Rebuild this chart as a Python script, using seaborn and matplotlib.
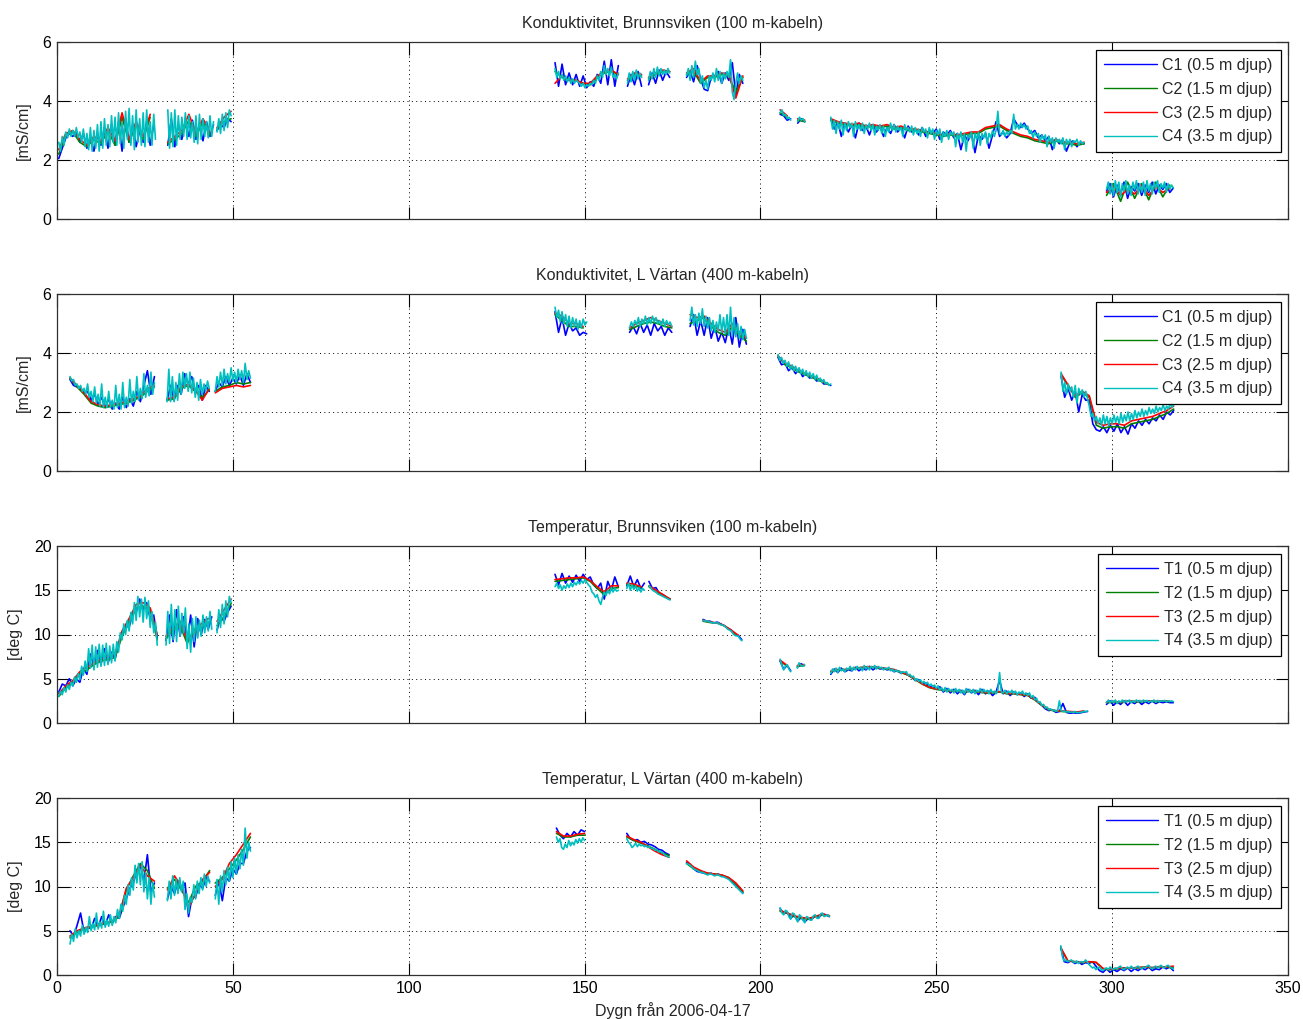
import matplotlib
matplotlib.use("Agg")
import matplotlib.pyplot as plt
from matplotlib.lines import Line2D
import pandas as pd
import seaborn as sns

# ---------------------------------------------------------------------------
# Each series is stored as segments; a segment starts at the given day and is
# sampled every STEP[sensor] days.
# ---------------------------------------------------------------------------
STEP = {"1": 1.0, "2": 2.0, "3": 2.0, "4": 0.5}

# ---- Konduktivitet, Brunnsviken (100 m-kabeln) -----------------------------
bv_cond_start = [0.5, 31.5, 45.5, 141.6, 162.2, 168.2, 179.0, 205.6, 210.6, 220.0, 298.4]
bv_cond_c1 = [
    [2.05, 2.4, 2.75, 2.9, 2.8, 2.95, 2.6, 2.9, 2.4, 2.8, 2.3, 2.9, 2.5, 3.1, 2.4, 3.2, 2.5, 3.3, 2.3, 3.4, 2.6, 3.2, 2.45, 3.0, 2.6, 3.3, 2.5, 3.2],
    [2.5, 3.4, 2.45, 3.2, 2.7, 3.3, 2.8, 3.35, 2.7, 3.2, 2.65, 3.3, 2.8, 3.2],
    [3.0, 3.2, 3.1, 3.4, 3.3],
    [5.3, 4.5, 5.25, 4.55, 4.95, 4.55, 4.9, 4.5, 4.85, 4.45, 4.65, 4.5, 4.9, 4.6, 5.35, 4.55, 5.4, 4.5, 5.2],
    [4.5, 4.9, 4.55, 5.0, 4.5],
    [4.55, 4.95, 4.6, 5.05, 4.7, 5.0, 4.8],
    [4.8, 5.0, 4.65, 5.2, 4.75, 4.4, 4.35, 4.8, 4.85, 5.0, 4.6, 4.95, 4.7, 5.3, 4.2, 4.9, 4.6],
    [3.55, 3.5, 3.35, 3.4],
    [3.25, 3.4, 3.3],
    [3.4, 3.05, 3.3, 2.8, 3.25, 2.95, 3.2, 2.75, 3.25, 3.0, 3.15, 2.85, 3.2, 2.95,
     3.15, 2.8, 3.1, 2.9, 3.2, 2.95, 3.1, 2.75, 3.15, 2.95,
     3.05, 2.85, 3.1, 2.8, 3.0, 2.9, 3.05, 2.7, 2.95, 2.85, 3.0, 2.75,
     2.9, 2.35, 2.85, 2.65, 2.9, 2.25, 2.85, 2.7, 2.9, 2.4, 2.85,
     3.3, 2.8, 2.95, 2.75, 2.9, 3.4, 3.2, 3.1, 3.25, 3.05,
     2.9, 3.0, 2.75, 2.85, 2.65, 2.8, 2.35, 2.7, 2.55, 2.7, 2.3, 2.6, 2.65, 2.45, 2.6, 2.55],
    [0.95, 1.2, 0.75, 1.15, 0.85, 1.25, 0.7, 1.1, 0.95, 1.2, 0.8, 1.15, 0.9, 1.25, 0.85, 1.15, 1.0, 1.2, 0.9, 1.05],
]
bv_cond_c2 = [
    [2.2, 2.85, 2.95, 2.6, 2.45, 2.7, 2.55, 3.0, 2.5, 3.45, 2.6, 3.2, 2.7, 3.45],
    [2.55, 2.7, 2.9, 3.35, 2.8, 3.3, 2.85],
    [3.05, 3.3, 3.4],
    [5.0, 4.8, 4.7, 4.7, 4.6, 4.55, 4.8, 4.95, 5.0, 4.9],
    [4.7, 4.9, 4.85],
    [4.75, 4.9, 5.0, 5.0],
    [4.9, 5.0, 4.6, 4.8, 4.8, 4.9, 4.85, 4.3, 4.8],
    [3.6, 3.45],
    [3.35, 3.3],
    [3.35, 3.25, 3.2, 3.15, 3.2, 3.1, 3.15, 3.1, 3.15, 3.05, 3.1, 3.0, 3.0, 2.95, 2.9, 2.85, 2.8, 2.85, 2.8,
     2.85, 2.9, 2.9, 3.05, 3.1, 3.15, 3.0, 2.9, 2.8, 2.75, 2.65, 2.6, 2.55, 2.65, 2.55, 2.55, 2.5, 2.55],
    [0.8, 1.2, 0.6, 1.25, 0.7, 1.2, 0.65, 1.25, 0.75, 1.15],
]
bv_cond_c3 = [
    [2.35, 2.9, 3.0, 2.7, 2.5, 2.8, 2.65, 3.1, 2.65, 3.6, 2.7, 3.3, 2.8, 3.55],
    [2.6, 2.8, 3.0, 3.55, 2.9, 3.4, 2.95],
    [3.1, 3.45, 3.65],
    [4.6, 4.85, 4.7, 4.7, 4.6, 4.6, 4.85, 5.0, 5.05, 4.9],
    [4.75, 4.95, 4.9],
    [4.8, 4.95, 5.05, 5.0],
    [4.95, 5.1, 4.65, 4.85, 4.85, 4.95, 4.9, 4.1, 4.85],
    [3.7, 3.5],
    [3.4, 3.35],
    [3.4, 3.3, 3.25, 3.2, 3.25, 3.15, 3.2, 3.15, 3.2, 3.1, 3.15, 3.05, 3.05, 3.0, 2.95, 2.9, 2.85, 2.9, 2.85,
     2.9, 2.95, 2.95, 3.1, 3.15, 3.2, 3.05, 2.95, 2.85, 2.8, 2.7, 2.65, 2.6, 2.7, 2.6, 2.6, 2.55, 2.6],
    [0.9, 1.1, 0.8, 1.0, 0.85, 1.15, 0.8, 1.1, 0.9, 1.05],
]
bv_cond_c4 = [
    [2.6, 2.3, 2.8, 2.5, 2.95, 2.75, 3.05, 2.8,
     3.0, 2.8, 3.1, 2.75, 2.95, 2.6, 3.05, 2.45,
     2.9, 2.35, 3.1, 2.3, 3.0, 2.4, 3.2, 2.3,
     3.3, 2.4, 3.4, 2.5, 3.2, 2.45, 3.5, 2.6,
     3.45, 2.5, 3.6, 2.55, 3.3, 2.4, 3.65, 2.7,
     3.75, 2.5, 3.5, 2.35, 3.7, 2.6, 3.4, 2.5,
     3.6, 2.45, 3.7, 2.6, 3.3, 2.5, 3.55, 2.7],
    [3.7, 2.4, 3.6, 2.45, 3.7, 2.5, 3.5, 2.7, 3.45, 2.8, 3.6, 2.7, 3.5, 2.75, 3.3, 2.6, 3.5, 2.55,
     3.55, 2.7, 3.4, 2.8, 3.3, 2.75, 3.5, 2.8, 3.3],
    [2.95, 3.4, 2.9, 3.55, 3.0, 3.6, 3.1, 3.7, 3.5],
    [5.1, 4.8, 5.0, 4.75, 4.9, 4.7, 4.85, 4.65, 4.8, 4.6, 4.75, 4.6, 4.7, 4.65, 4.6, 4.5, 4.6, 4.45,
     4.55, 4.5, 4.6, 4.55, 4.7, 4.6, 4.85, 4.7, 5.0, 4.8, 5.2, 4.9, 5.1, 4.85, 5.15, 4.8, 4.9, 4.75, 4.95],
    [4.6, 4.95, 4.65, 5.0, 4.7, 5.05, 4.75, 4.95, 4.8],
    [4.7, 5.0, 4.75, 5.1, 4.8, 5.15, 4.85, 5.1, 4.9, 5.05, 4.9, 5.1, 4.95],
    [4.85, 5.1, 4.7, 5.2, 4.8, 5.35, 4.9, 5.1, 4.6, 4.85, 4.45, 4.7, 4.4, 4.85, 4.7, 4.95, 4.65,
     5.1, 4.7, 5.0, 4.6, 4.95, 4.75, 5.0, 4.8, 5.4, 4.3, 4.05, 4.6, 4.95, 4.6, 4.85, 4.7],
    [3.6, 3.7, 3.5, 3.55, 3.4, 3.45, 3.35],
    [3.3, 3.45, 3.35, 3.4, 3.3],
    [3.45, 3.05, 3.35, 2.9, 3.3, 3.05, 3.35, 2.85, 3.25, 3.0, 3.3, 3.1, 3.25, 2.8,
     3.3, 3.05, 3.2, 3.0, 3.25, 2.9, 3.2, 3.05, 3.25, 3.0, 3.2, 2.85, 3.15, 3.0,
     3.2, 2.9, 3.15, 2.8, 3.1, 2.95, 3.25, 3.0, 3.2, 2.95, 3.15, 3.0, 3.1, 2.8,
     3.2, 3.0, 3.1, 2.95, 3.15, 2.85, 3.1, 2.9, 3.05, 2.8, 3.1, 2.95, 3.05, 2.75,
     3.1, 2.9, 3.05, 2.7, 3.0, 2.85, 3.05, 2.6, 2.95, 2.8, 3.0, 2.7, 2.95, 2.85,
     2.95, 2.45, 2.9, 2.7, 2.95, 2.6, 2.9, 2.3, 2.85, 2.75, 2.95, 2.4, 2.9, 2.7,
     2.95, 2.5, 2.9, 2.75, 2.95, 2.55, 2.9, 2.75, 3.0, 2.8, 3.0, 3.65, 2.9, 2.85,
     3.0, 2.8, 2.95, 2.85, 3.0, 2.9, 3.55, 3.05, 3.2, 3.05, 3.25, 3.1, 3.2, 3.05,
     3.15, 2.9, 3.0, 2.75, 2.95, 2.8, 2.9, 2.6, 2.85, 2.7, 2.85, 2.45, 2.8, 2.6,
     2.75, 2.4, 2.75, 2.6, 2.7, 2.55, 2.75, 2.35, 2.7, 2.55, 2.7, 2.45, 2.65, 2.6,
     2.7, 2.5, 2.65, 2.55, 2.6],
    [1.0, 1.25, 0.85, 1.2, 0.8, 1.3, 0.9, 1.25, 0.75, 1.2, 0.95, 1.3, 0.85, 1.15, 0.8, 1.25, 1.0, 1.3, 0.85, 1.2,
     0.9, 1.25, 0.8, 1.3, 0.95, 1.2, 0.85, 1.25, 1.0, 1.3, 0.9, 1.2, 1.05, 1.25, 0.9, 1.2, 1.0, 1.15, 1.05],
]

# ---- Konduktivitet, L Värtan (400 m-kabeln) --------------------------------
lv_cond_start = [3.7, 31.3, 45.0, 141.6, 162.8, 180.0, 205.0, 285.5]
lv_cond_c1 = [
    [3.1, 2.9, 2.85, 2.8, 2.65, 2.7, 2.4, 2.6, 2.25, 2.5, 2.15, 2.45, 2.1, 2.3, 2.1, 2.5, 2.15, 2.45, 2.2, 2.7, 2.35, 2.9, 3.4, 2.6, 3.2],
    [2.4, 2.9, 2.4, 2.9, 2.6, 3.3, 2.95, 3.2, 2.7, 2.9, 2.4, 2.9, 2.7],
    [2.7, 3.0, 2.85, 3.2, 2.9, 3.15, 2.95, 3.25, 2.9, 3.3, 3.0],
    [5.4, 4.7, 5.2, 4.6, 5.0, 4.75, 4.85, 4.6, 4.7, 4.65],
    [4.7, 4.9, 4.65, 5.0, 4.7, 4.95, 4.6, 5.0, 4.75, 4.9, 4.6, 4.85, 4.7],
    [4.9, 5.3, 4.6, 5.1, 4.6, 5.2, 4.5, 4.9, 4.4, 4.7, 4.35, 4.9, 4.3, 5.2, 4.2, 4.8, 4.3],
    [3.85, 3.6, 3.65, 3.4, 3.5, 3.3, 3.45, 3.2, 3.3, 3.15, 3.2, 3.05, 3.1, 2.95, 2.95, 2.9],
    [3.2, 2.5, 2.8, 2.4, 2.7, 2.0, 2.6, 2.4, 2.4, 1.6, 1.4, 1.35, 1.5, 1.3, 1.55, 1.35, 1.6, 1.3, 1.5, 1.25,
     1.6, 1.45, 1.7, 1.55, 1.75, 1.6, 1.8, 1.7, 1.9, 1.75, 2.0, 1.9, 2.05],
]
lv_cond_c2 = [
    [3.15, 2.85, 2.6, 2.3, 2.2, 2.15, 2.2, 2.25, 2.3, 2.4, 2.5, 2.7, 2.85],
    [2.4, 2.45, 2.8, 2.9, 2.7, 2.5, 2.75],
    [2.7, 2.85, 2.9, 3.0, 2.95, 3.0],
    [5.3, 5.1, 4.9, 4.9, 4.85],
    [4.8, 4.9, 5.0, 5.05, 5.0, 4.9, 4.85],
    [5.0, 5.1, 5.2, 4.9, 4.7, 4.6, 4.9, 4.6, 4.4],
    [3.9, 3.6, 3.5, 3.35, 3.25, 3.15, 3.05, 2.95],
    [3.25, 2.9, 2.5, 2.65, 2.5, 1.55, 1.45, 1.5, 1.5, 1.45, 1.6, 1.65, 1.7, 1.75, 1.85, 1.95, 2.1],
]
lv_cond_c3 = [
    [3.15, 2.9, 2.65, 2.35, 2.25, 2.2, 2.25, 2.3, 2.35, 2.45, 2.55, 2.8, 2.9],
    [2.45, 2.5, 2.85, 2.95, 2.75, 2.4, 2.8],
    [2.65, 2.8, 2.85, 2.9, 2.85, 2.9],
    [5.35, 5.25, 5.0, 5.0, 4.9],
    [4.85, 5.0, 5.1, 5.2, 5.1, 5.0, 4.9],
    [5.3, 5.2, 5.25, 5.0, 4.8, 4.7, 5.0, 4.7, 4.5],
    [3.9, 3.65, 3.55, 3.4, 3.3, 3.2, 3.1, 2.95],
    [3.3, 2.9, 2.55, 2.7, 2.55, 1.65, 1.55, 1.6, 1.6, 1.55, 1.7, 1.75, 1.8, 1.85, 1.95, 2.05, 2.2],
]
lv_cond_c4 = [
    [3.2, 3.05, 3.1, 2.9, 2.95, 2.8, 2.9, 2.7, 2.8, 2.6, 2.95, 2.5, 2.7, 2.35, 2.85, 2.3,
     2.6, 2.2, 2.95, 2.15, 2.5, 2.15, 2.7, 2.15, 2.4, 2.1, 2.9, 2.15, 2.6, 2.1, 3.0, 2.15,
     2.5, 2.2, 3.1, 2.3, 2.7, 2.35, 3.2, 2.4, 2.8, 2.45, 3.3, 2.5, 2.9, 2.55, 3.35, 2.6, 3.0],
    [2.35, 3.45, 2.35, 3.2, 2.35, 3.0, 2.4, 3.3, 2.6, 3.35, 2.8, 3.3, 2.7, 3.35, 2.65, 3.15, 2.5, 3.0,
     2.4, 3.1, 2.6, 2.95, 2.7, 3.05, 2.8],
    [2.7, 3.2, 2.85, 3.35, 2.9, 3.45, 2.95, 3.3, 3.0, 3.5, 3.05, 3.35, 3.0, 3.45, 3.1, 3.4, 3.0, 3.65, 3.1, 3.4, 3.15],
    [5.55, 5.2, 5.45, 5.05, 5.4, 5.0, 5.3, 4.9, 5.25, 4.85, 5.2, 4.9, 5.15, 4.8, 5.1, 4.85, 5.15, 4.95, 5.05],
    [4.85, 5.05, 4.9, 5.1, 4.95, 5.2, 4.9, 5.15, 5.0, 5.25, 4.95, 5.2, 5.0, 5.25, 5.05, 5.2, 5.0, 5.1,
     4.95, 5.15, 4.9, 5.1, 4.95, 5.05, 4.9],
    [5.1, 5.55, 4.95, 5.3, 4.9, 5.35, 5.0, 5.5, 4.9, 5.25, 4.85, 5.2, 4.75, 5.1, 4.7, 5.05, 4.75, 5.3,
     4.7, 5.2, 4.65, 5.3, 4.6, 5.55, 4.6, 5.2, 4.55, 5.0, 4.5, 4.9, 4.45, 4.8, 4.5],
    [3.95, 3.75, 3.85, 3.65, 3.75, 3.55, 3.7, 3.45, 3.6, 3.4, 3.55, 3.35, 3.5, 3.3, 3.45, 3.25,
     3.4, 3.2, 3.35, 3.15, 3.3, 3.1, 3.25, 3.05, 3.15, 3.0, 3.1, 2.95, 3.0, 2.9, 2.95],
    [3.35, 2.7, 3.0, 2.6, 2.95, 2.7, 2.85, 2.5, 2.9, 2.3, 2.8, 2.6, 2.75, 2.5, 2.7, 2.45,
     2.2, 1.85, 1.95, 1.7, 1.85, 1.6, 1.8, 1.55, 1.9, 1.6, 1.85, 1.55, 1.8, 1.6, 1.9, 1.65,
     1.85, 1.6, 1.95, 1.65, 1.9, 1.7, 2.0, 1.7, 1.95, 1.75, 2.05, 1.8, 2.0, 1.85, 2.1, 1.85,
     2.05, 1.9, 2.15, 1.95, 2.1, 1.95, 2.2, 2.0, 2.15, 2.05, 2.25, 2.05, 2.2, 2.1, 2.3, 2.15, 2.25],
]

# ---- Temperatur, Brunnsviken (100 m-kabeln) --------------------------------
bv_temp_start = [0.5, 31.0, 45.5, 141.6, 162.0, 168.3, 183.7, 205.6, 210.5, 220.0, 298.4]
bv_temp_t1 = [
    [3.5, 4.4, 4.2, 5.0, 4.2, 5.0, 4.6, 6.2, 5.5, 7.8, 6.4, 8.2, 6.6, 8.4, 6.8, 8.0, 7.2, 9.0, 9.8, 11.0, 10.8, 12.4, 12.5, 14.0, 12.8, 13.6, 11.8, 12.2, 9.6],
    [9.3, 12.2, 9.2, 12.8, 9.8, 12.0, 9.0, 12.2, 8.6, 11.8, 10.0, 11.7, 10.6, 12.0],
    [10.5, 12.0, 11.5, 12.5, 13.2],
    [16.8, 15.6, 16.9, 15.8, 16.6, 15.9, 16.7, 16.0, 16.8, 16.2, 16.5, 15.6, 15.2, 15.8, 14.0, 16.0, 15.0, 16.5, 15.4],
    [15.5, 16.6, 15.4, 16.2, 15.2, 15.8],
    [16.0, 15.2, 15.3, 14.6, 14.5, 14.2, 14.0],
    [11.7, 11.5, 11.5, 11.3, 11.4, 11.2, 11.0, 10.7, 10.5, 10.0, 9.9, 9.4],
    [7.0, 6.1, 6.5, 5.9],
    [6.3, 6.7, 6.5],
    [5.5, 6.1, 5.7, 6.2, 5.8, 6.0, 5.9, 6.3, 5.9, 6.2,
     6.0, 6.4, 6.0, 6.3, 6.1, 6.2, 6.0, 6.1, 5.8, 5.9,
     5.6, 5.7, 5.4, 5.2, 4.8, 4.9, 4.5, 4.5, 4.1, 4.2,
     3.8, 4.1, 3.5, 3.9, 3.4, 3.8, 3.3, 3.7, 3.2, 3.8,
     3.4, 3.7, 3.2, 3.8, 3.3, 3.6, 3.1, 3.5, 4.8, 3.3,
     3.6, 3.1, 3.5, 3.2, 3.4, 3.0, 3.3, 2.8, 2.9, 2.3,
     2.0, 1.6, 1.4, 1.5, 1.2, 1.3, 2.2, 1.2, 1.1, 1.15,
     1.1, 1.15, 1.25, 1.3],
    [2.1, 2.5, 2.0, 2.4, 2.1, 2.5, 2.0, 2.4, 2.2, 2.5, 2.1, 2.4, 2.2, 2.5, 2.2, 2.4, 2.3, 2.4, 2.3, 2.3],
]
bv_temp_t2 = [
    [3.0, 4.0, 4.6, 5.6, 6.0, 6.6, 7.0, 7.2, 7.4, 9.8, 11.5, 13.0, 13.2, 12.8, 9.4],
    [9.5, 10.5, 11.0, 9.0, 10.6, 10.8, 11.4],
    [11.0, 12.0, 13.5],
    [16.0, 16.1, 16.2, 16.3, 16.4, 16.0, 15.2, 14.5, 15.2, 15.3],
    [15.6, 15.5, 15.3],
    [15.4, 14.8, 14.4, 14.0],
    [11.5, 11.35, 11.3, 11.0, 10.4, 9.8],
    [7.0, 6.4],
    [6.4, 6.5],
    [5.8, 6.0, 6.0, 6.1, 6.2, 6.3, 6.3, 6.2, 6.1, 6.0, 5.7, 5.4, 4.9, 4.4, 4.0, 3.8, 3.7, 3.6, 3.6,
     3.5, 3.6, 3.5, 3.4, 3.4, 3.5, 3.3, 3.3, 3.2, 3.1, 2.6, 2.0, 1.5, 1.35, 1.3, 1.25, 1.2, 1.3],
    [2.3, 2.4, 2.3, 2.5, 2.4, 2.4, 2.5, 2.4, 2.5, 2.4],
]
bv_temp_t3 = [
    [3.3, 4.2, 4.8, 5.8, 6.3, 6.8, 7.2, 7.6, 7.8, 10.4, 11.8, 13.4, 13.6, 13.0, 10.0],
    [9.8, 10.8, 11.5, 9.4, 10.0, 11.2, 11.8],
    [11.5, 12.8, 14.0],
    [16.2, 16.3, 16.4, 16.4, 16.5, 16.1, 15.4, 14.8, 15.5, 15.5],
    [15.8, 15.7, 15.4],
    [15.5, 15.0, 14.5, 14.0],
    [11.6, 11.4, 11.3, 11.0, 10.5, 9.9],
    [7.1, 6.5],
    [6.5, 6.6],
    [5.85, 6.05, 6.05, 6.15, 6.25, 6.35, 6.35, 6.25, 6.15, 6.05, 5.75, 5.45, 4.95, 4.45, 4.05, 3.85, 3.75, 3.65, 3.65,
     3.55, 3.65, 3.55, 3.45, 3.45, 3.55, 3.35, 3.35, 3.25, 3.15, 2.65, 2.05, 1.55, 1.4, 1.35, 1.3, 1.25, 1.35],
    [2.35, 2.45, 2.35, 2.5, 2.45, 2.45, 2.5, 2.45, 2.5, 2.45],
]
bv_temp_t4 = [
    [3.0, 3.6, 3.2, 4.0, 3.5, 4.3, 3.8, 4.6,
     4.2, 5.2, 4.6, 5.6, 4.9, 6.4, 5.4, 7.0,
     5.8, 8.4, 6.2, 8.8, 6.0, 8.6, 6.3, 8.9,
     6.4, 8.8, 6.5, 9.0, 6.6, 8.7, 6.8, 8.9,
     7.0, 9.2, 8.0, 10.2, 9.4, 11.2, 10.0, 11.6,
     10.4, 12.5, 11.2, 13.6, 11.6, 14.3, 12.0, 14.0,
     11.4, 14.2, 11.8, 13.8, 10.8, 12.6, 10.2, 11.4, 8.8],
    [8.8, 12.6, 9.0, 13.4, 9.4, 12.8, 9.2, 13.2, 9.8, 12.4, 10.2, 13.0, 8.4, 11.2, 8.0, 11.8, 9.2, 12.0,
     9.6, 11.6, 9.8, 12.2, 10.2, 12.0, 10.4, 12.6, 10.6],
    [10.2, 12.8, 10.8, 13.4, 11.2, 13.8, 12.0, 14.3, 13.6],
    [15.4, 15.8, 15.2, 15.6, 15.0, 15.5, 15.2, 15.7, 15.3, 15.8, 15.4, 15.9, 15.6, 16.0, 15.7, 16.1, 15.8, 16.2,
     15.9, 15.6, 15.4, 14.8, 14.6, 14.2, 14.5, 13.8, 13.4, 14.2, 14.8, 14.4, 15.0, 14.6, 15.3, 14.8, 15.2, 14.9, 15.0],
    [15.2, 15.8, 15.0, 15.6, 15.1, 15.5, 14.9, 15.3, 14.8, 15.2, 15.0],
    [15.5, 15.3, 15.0, 14.9, 14.8, 14.6, 14.5, 14.4, 14.3, 14.2, 14.1, 14.0, 13.9],
    [11.6, 11.5, 11.55, 11.45, 11.4, 11.35, 11.3, 11.3, 11.35, 11.2, 11.1, 11.05, 11.0, 10.8, 10.6, 10.5,
     10.4, 10.1, 9.9, 9.85, 9.8, 9.5, 9.3],
    [7.2, 6.5, 6.0, 6.4, 6.6, 6.1, 5.8],
    [6.2, 6.8, 6.5, 6.4, 6.6],
    [5.6, 6.1, 5.8, 6.2, 5.7, 6.3, 5.9, 6.1, 5.8, 6.2, 6.0, 6.4, 5.9, 6.3,
     6.0, 6.4, 6.1, 6.3, 5.9, 6.5, 6.1, 6.4, 6.0, 6.4, 6.2, 6.5, 6.1, 6.4,
     6.2, 6.3, 6.0, 6.2, 6.1, 6.3, 5.9, 6.1, 5.8, 6.0, 5.8, 5.9, 5.6, 5.8,
     5.7, 5.8, 5.4, 5.5, 5.2, 5.3, 4.8, 5.0, 4.7, 4.9, 4.5, 4.7, 4.4, 4.6,
     4.2, 4.4, 4.1, 4.3, 3.9, 4.2, 3.7, 4.0, 3.6, 4.0, 3.5, 3.9, 3.6, 3.8,
     3.4, 3.9, 3.5, 3.8, 3.4, 3.7, 3.3, 3.9, 3.5, 3.8, 3.4, 3.8, 3.3, 3.7,
     3.5, 3.9, 3.4, 3.8, 3.5, 3.7, 3.3, 3.8, 3.4, 3.6, 3.3, 3.7, 5.7, 3.5,
     3.4, 3.7, 3.3, 3.6, 3.4, 3.7, 3.3, 3.6, 3.2, 3.5, 3.3, 3.6, 3.2, 3.4,
     3.1, 3.4, 2.9, 3.1, 2.6, 2.8, 2.3, 2.4, 2.0, 2.1, 1.7, 1.8, 1.5, 1.6,
     1.4, 1.5, 1.3, 1.4, 2.5, 1.4, 1.3, 1.35, 1.25, 1.3, 1.2, 1.25, 1.2, 1.3,
     1.15, 1.2, 1.2, 1.25, 1.3, 1.3, 1.35],
    [2.3, 2.6, 2.25, 2.55, 2.3, 2.6, 2.2, 2.5, 2.35, 2.6, 2.3, 2.55, 2.4, 2.6, 2.3, 2.5, 2.35, 2.6, 2.4, 2.55,
     2.35, 2.6, 2.4, 2.55, 2.35, 2.5, 2.4, 2.6, 2.35, 2.55, 2.4, 2.5, 2.45, 2.55, 2.4, 2.5, 2.45, 2.5, 2.4],
]

# ---- Temperatur, L Värtan (400 m-kabeln) -----------------------------------
lv_temp_start = [3.7, 31.4, 45.0, 142.0, 162.0, 179.0, 205.6, 285.4]
lv_temp_t1 = [
    [5.0, 4.4, 5.6, 7.0, 4.8, 5.4, 5.2, 6.4, 5.4, 6.6, 5.6, 6.8, 5.8, 6.6, 6.4, 7.6, 8.6, 9.8, 10.4, 11.8, 12.4, 10.6, 13.6, 9.4, 10.4],
    [8.6, 10.0, 9.2, 10.6, 9.6, 10.4, 6.6, 8.8, 8.8, 10.2, 9.8, 11.0, 10.6],
    [9.0, 10.6, 8.4, 11.0, 10.6, 12.0, 11.4, 12.6, 12.6, 14.0, 14.4],
    [16.6, 15.8, 15.4, 16.0, 15.6, 16.2, 15.8, 16.4, 16.2],
    [16.0, 15.4, 15.2, 15.3, 15.0, 15.1, 14.8, 14.7, 14.5, 14.2, 14.1, 13.8, 13.6],
    [12.7, 12.5, 12.0, 11.7, 11.6, 11.5, 11.4, 11.5, 11.3, 11.4, 11.2, 11.1, 10.9, 10.5, 10.1, 9.7, 9.3],
    [7.5, 6.9, 7.1, 6.4, 6.8, 6.1, 6.5, 6.0, 6.4, 6.3, 6.7, 6.5, 6.9, 6.8, 6.6],
    [3.1, 1.5, 1.4, 1.6, 1.3, 1.5, 1.2, 1.4, 1.3, 1.5, 1.0, 0.5, 0.3, 0.7, 0.3, 0.6, 0.4, 0.7, 0.5, 0.8,
     0.4, 0.7, 0.5, 0.8, 0.6, 0.9, 0.5, 0.7, 0.6, 0.9, 0.7, 0.9, 0.5],
]
lv_temp_t2 = [
    [4.2, 4.8, 5.2, 5.4, 5.6, 5.8, 6.0, 6.6, 9.6, 11.2, 12.6, 11.8, 9.8],
    [9.8, 10.8, 9.6, 8.2, 10.0, 10.6, 11.8],
    [10.4, 11.0, 12.0, 13.0, 14.2, 15.6],
    [16.0, 15.6, 15.6, 15.8, 15.8],
    [15.6, 15.2, 14.9, 14.6, 14.2, 13.8, 13.5],
    [12.6, 12.0, 11.7, 11.5, 11.4, 11.3, 11.0, 10.3, 9.4],
    [7.2, 7.0, 6.6, 6.4, 6.3, 6.6, 6.8, 6.7],
    [3.0, 1.6, 1.5, 1.4, 1.5, 1.4, 0.7, 0.6, 0.7, 0.8, 0.8, 0.8, 0.9, 0.8, 0.9, 0.9, 0.8],
]
lv_temp_t3 = [
    [4.4, 5.0, 5.3, 5.5, 5.7, 5.9, 6.1, 6.8, 9.8, 11.0, 12.4, 11.2, 10.6],
    [9.6, 11.2, 10.0, 7.6, 9.2, 10.8, 11.6],
    [10.0, 10.8, 12.6, 13.6, 14.8, 16.0],
    [16.2, 15.7, 15.7, 15.9, 16.0],
    [15.7, 15.3, 15.0, 14.5, 14.0, 13.6, 13.3],
    [12.9, 12.2, 11.8, 11.5, 11.4, 11.3, 11.0, 10.4, 9.5],
    [7.3, 7.0, 6.7, 6.5, 6.4, 6.6, 6.9, 6.7],
    [3.1, 1.6, 1.5, 1.45, 1.5, 1.45, 0.75, 0.65, 0.75, 0.8, 0.8, 0.85, 0.9, 0.85, 0.95, 0.9, 1.0],
]
lv_temp_t4 = [
    [3.5, 4.6, 3.8, 5.2, 4.2, 5.0, 4.4, 5.6,
     4.6, 5.4, 4.8, 6.6, 5.0, 5.8, 5.1, 7.0,
     5.2, 6.0, 5.3, 7.2, 5.4, 6.2, 5.5, 6.8,
     5.6, 6.6, 5.9, 7.4, 6.4, 8.0, 7.2, 9.0,
     8.0, 10.2, 9.0, 11.0, 9.6, 12.4, 10.4, 12.6,
     10.2, 12.8, 9.4, 11.6, 8.6, 11.0, 8.0, 10.4, 8.8],
    [8.4, 10.6, 8.6, 11.2, 9.0, 10.8, 9.2, 11.0, 9.4, 10.6, 7.4, 9.2, 7.0, 8.8, 8.2, 10.2, 8.6, 10.6,
     9.2, 11.0, 9.6, 11.4, 10.0, 11.2, 10.4],
    [8.6, 10.8, 8.0, 11.2, 9.4, 11.8, 10.2, 12.2, 10.6, 12.8, 11.0, 13.2, 11.4, 13.6, 12.0, 14.2, 12.4,
     16.6, 13.2, 15.0, 14.0],
    [15.6, 15.0, 15.4, 14.4, 14.2, 14.8, 14.4, 15.2, 14.6, 15.0, 14.7, 15.3, 14.9, 15.4, 15.0, 15.5, 15.2],
    [15.4, 15.0, 14.8, 14.4, 14.6, 14.9, 14.5, 14.8, 14.6, 14.7, 14.5, 14.6, 14.4, 14.5, 14.3, 14.3, 14.1,
     14.2, 13.9, 14.0, 13.8, 13.7, 13.5, 13.4, 13.3],
    [12.6, 12.5, 12.4, 12.2, 12.0, 11.9, 11.8, 11.7, 11.6, 11.6, 11.5, 11.4, 11.3, 11.4, 11.4, 11.3, 11.2,
     11.3, 11.3, 11.2, 11.1, 11.1, 11.0, 10.9, 10.8, 10.6, 10.4, 10.2, 10.0, 9.8, 9.6, 9.4, 9.2],
    [7.6, 7.0, 6.8, 7.3, 7.2, 6.6, 6.3, 7.0, 6.9, 6.4, 6.0, 6.8, 6.6, 6.2, 5.9, 6.6, 6.5, 6.2, 6.2, 6.7,
     6.8, 6.4, 6.4, 6.9, 7.0, 6.6, 6.7, 6.8, 6.6],
    [3.3, 2.0, 1.6, 1.7, 1.5, 1.6, 1.7, 1.5, 1.4, 1.6, 1.3, 1.5, 1.5, 1.4, 1.7, 1.5,
     1.2, 1.0, 0.8, 0.9, 0.6, 0.8, 0.9, 0.6, 0.5, 0.7, 0.8, 0.6, 0.9, 0.7, 0.6, 0.8,
     0.7, 0.9, 1.0, 0.7, 0.6, 0.8, 0.9, 0.7, 1.0, 0.8, 0.7, 0.9, 1.0, 0.8, 0.7, 0.9,
     0.8, 1.0, 1.1, 0.8, 0.7, 0.9, 1.0, 0.8, 0.9, 1.1, 0.9, 0.8, 1.0, 1.1, 0.9, 0.8, 0.7],
]

# ---- Labels ----------------------------------------------------------------
depths = ["0.5", "1.5", "2.5", "3.5"]
sensor_ids = ["1", "2", "3", "4"]
colors = ["#0000ff", "#008000", "#ff0000", "#00bfbf"]
x_ticks = [0, 50, 100, 150, 200, 250, 300, 350]
cond_ticks = [0, 2, 4, 6]
temp_ticks = [0, 5, 10, 15, 20]

panels = [
    ("Konduktivitet, Brunnsviken (100 m-kabeln)", "[mS/cm]", "C", bv_cond_start,
     [bv_cond_c1, bv_cond_c2, bv_cond_c3, bv_cond_c4], cond_ticks),
    ("Konduktivitet, L Värtan (400 m-kabeln)", "[mS/cm]", "C", lv_cond_start,
     [lv_cond_c1, lv_cond_c2, lv_cond_c3, lv_cond_c4], cond_ticks),
    ("Temperatur, Brunnsviken (100 m-kabeln)", "[deg C]", "T", bv_temp_start,
     [bv_temp_t1, bv_temp_t2, bv_temp_t3, bv_temp_t4], temp_ticks),
    ("Temperatur, L Värtan (400 m-kabeln)", "[deg C]", "T", lv_temp_start,
     [lv_temp_t1, lv_temp_t2, lv_temp_t3, lv_temp_t4], temp_ticks),
]


def to_long(starts, series):
    rows = []
    for sid, segments in zip(sensor_ids, series):
        step = STEP[sid]
        for k, (t0, vals) in enumerate(zip(starts, segments)):
            for i, v in enumerate(vals):
                rows.append((sid, k, t0 + step * i, v))
    return pd.DataFrame(rows, columns=["sensor", "segment", "day", "value"])


sns.set_style("ticks")
plt.rcParams["font.family"] = ["Liberation Sans", "DejaVu Sans"]
FS = 11.5

fig = plt.figure(figsize=(13.03, 10.19), dpi=100)
W, H = 1303.0, 1019.0
left_px, right_px = 57, 1288
tops_px = [42, 294, 546, 798]
height_px = 177

for p, (title, ylab, prefix, starts, series, yticks) in enumerate(panels):
    top = tops_px[p]
    ax = fig.add_axes([left_px / W, 1 - (top + height_px) / H,
                       (right_px - left_px) / W, height_px / H])
    df = to_long(starts, series)
    for sid, col in zip(sensor_ids, colors):
        sns.lineplot(data=df[df["sensor"] == sid], x="day", y="value",
                     units="segment", estimator=None, color=col,
                     linewidth=1.2, ax=ax, legend=False)

    ax.set_xlim(0, 350)
    ax.set_ylim(yticks[0], yticks[-1])
    ax.set_xticks(x_ticks)
    ax.set_yticks(yticks)
    ax.grid(True, color="black", linestyle=(0, (1, 3.5)), linewidth=0.7)
    ax.tick_params(direction="in", length=9, width=0.8, top=True, right=True,
                   labelsize=FS, pad=4, colors="black")
    for sp in ax.spines.values():
        sp.set_color("#303030")
        sp.set_linewidth(0.9)
    ax.set_title(title, fontsize=FS, pad=10)
    ax.set_ylabel(ylab, fontsize=FS, labelpad=8)
    if p < 3:
        ax.set_xticklabels([])
        ax.set_xlabel("")
    else:
        ax.set_xlabel("Dygn från 2006-04-17", fontsize=FS, labelpad=5)

    handles = [Line2D([0], [0], color=c, lw=1.0) for c in colors]
    labels = [f"{prefix}{s} ({d} m djup)" for s, d in zip(sensor_ids, depths)]
    leg = ax.legend(handles, labels, loc="upper right",
                    bbox_to_anchor=(0.994, 0.955), borderaxespad=0,
                    fancybox=False, framealpha=1, edgecolor="black",
                    fontsize=FS, handlelength=3.3, handletextpad=0.35,
                    labelspacing=0.55, borderpad=0.5)
    leg.get_frame().set_linewidth(0.9)

fig.savefig("out.png", dpi=100, facecolor="white")
